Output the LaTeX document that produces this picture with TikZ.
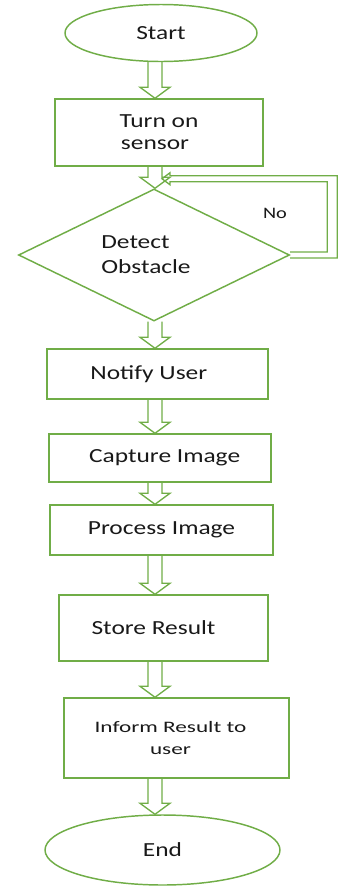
\documentclass[tikz,border=0pt]{standalone}
\usepackage{fontspec}
\setmainfont[FakeStretch=1.27]{Carlito}
\newfontfamily\petite[FakeStretch=1.45]{Carlito}
\usepackage{tikz}
\usetikzlibrary{shapes.geometric}
\usetikzlibrary{positioning}
\usetikzlibrary{calc}
\definecolor{vert}{RGB}{112,173,71}
\tikzstyle{terminal}=[ellipse,draw=vert,line width=1.1pt,inner sep=0pt,text=black!90,
font=\fontsize{15}{18}\selectfont]
\tikzstyle{bloc}=[rectangle,draw=vert,line width=1.1pt,inner sep=0pt,align=center,
text=black!90,font=\fontsize{15}{16.5}\selectfont]
\tikzstyle{decision}=[diamond,aspect=2,draw=vert,line width=1.1pt,inner sep=0pt,
align=left,text=black!90,font=\fontsize{15}{18.75}\selectfont]
\tikzstyle{suite}=[draw=vert,line width=1pt,line join=miter]
% flèche creuse verticale d'un bloc au suivant
\newcommand{\fleche}[2]{%
\draw[suite] ($(#1.south -| axe)+(-7,0)$) -- ($(#2.north -| axe)+(-7,-11)$)
  -- ($(#2.north -| axe)+(-15,-11)$) -- (#2.north -| axe)
  -- ($(#2.north -| axe)+(15,-11)$) -- ($(#2.north -| axe)+(7,-11)$)
  -- ($(#1.south -| axe)+(7,0)$);}

\begin{document}
\begin{tikzpicture}[x=0.75pt,y=-0.75pt]
\useasboundingbox (0,0) rectangle (337,886);
\coordinate (axe) at (155,0);
\node[terminal,minimum width=144pt,minimum height=42.75pt] (debut) at (161,33) {Start};
\node[bloc,minimum width=156pt,minimum height=50.25pt] (allumer) at (159,132.5) {Turn on\\sensor\hspace*{6pt}};
\node[decision,minimum width=203.25pt,minimum height=99pt] (detecter) at (154,255) {Detect\\Obstacle\hspace*{12pt}};
\node[bloc,minimum width=165.75pt,minimum height=37.5pt] (notifier) at (157.5,374) {Notify User\hspace*{13pt}};
\node[bloc,minimum width=166.5pt,minimum height=36pt] (capturer) at (160,458) {\hspace*{7pt}Capture Image};
\node[bloc,minimum width=167.25pt,minimum height=37.5pt] (traiter) at (161.5,530) {Process Image};
\node[bloc,minimum width=156.75pt,minimum height=49.5pt] (stocker) at (163.5,628) {Store Result\hspace*{15pt}};
\node[bloc,minimum width=168.75pt,minimum height=60pt,font=\petite\fontsize{12}{16.5}\selectfont] (informer) at (176.5,738) {Inform Result to\hspace*{9pt}\\user\hspace*{9pt}};
\node[terminal,minimum width=176.25pt,minimum height=52.5pt] (fin) at (162.5,850) {End};
\node[font=\fontsize{12}{14}\selectfont,text=black!90] (non) at (275,213) {No};
%Les flèches
\fleche{debut}{allumer}
\fleche{allumer}{detecter}
\fleche{detecter}{notifier}
\fleche{notifier}{capturer}
\fleche{capturer}{traiter}
\fleche{traiter}{stocker}
\fleche{stocker}{informer}
\fleche{informer}{fin}
% retour quand pas d'obstacle
\coordinate (coinbas) at ($(detecter.east)+(42,0)$);
\coordinate (pointe) at ($(allumer.south -| axe)+(7,12)$);
\coordinate (coinhaut) at (coinbas |- pointe);
\draw[suite] ($(detecter.east)+(0,3)$) -- ($(coinbas)+(5,3)$) -- ($(coinhaut)+(5,-3)$)
  -- ($(pointe)+(8,-3)$) -- ($(pointe)+(8,-6)$) -- (pointe) -- ($(pointe)+(8,6)$)
  -- ($(pointe)+(8,3)$) -- ($(coinhaut)+(-5,3)$) -- ($(coinbas)+(-5,-3)$)
  -- ($(detecter.east)+(0,-3)$);
\end{tikzpicture}
\end{document}
